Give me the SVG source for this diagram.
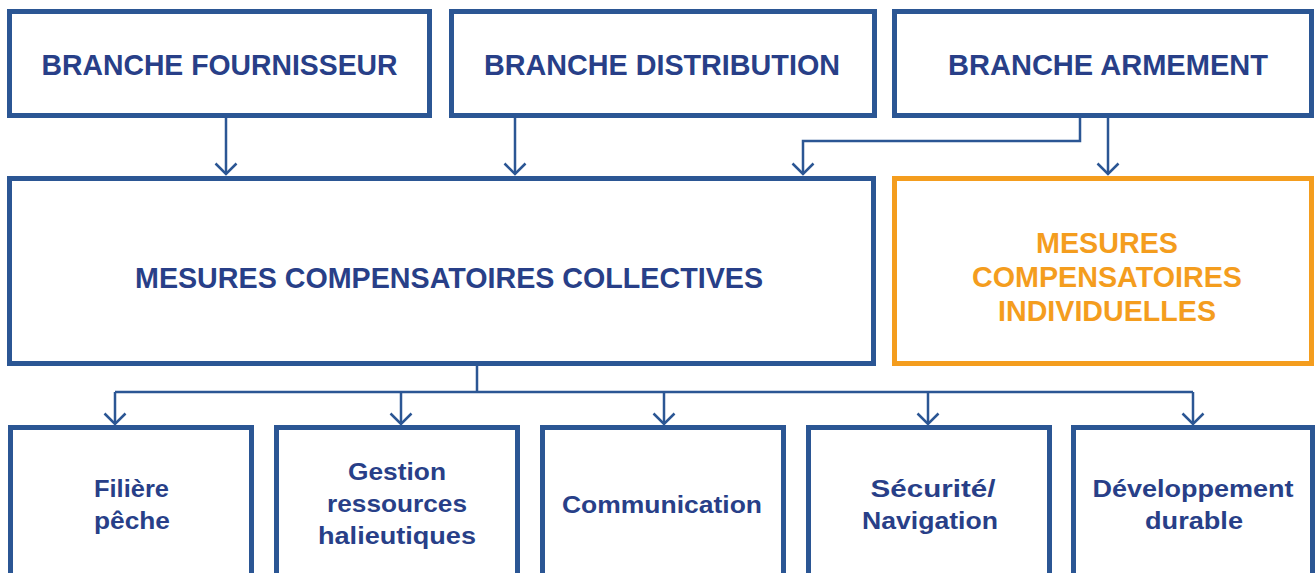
<svg xmlns="http://www.w3.org/2000/svg" width="1315" height="573" viewBox="0 0 1315 573">
<style>
.box{fill:#fff;stroke:#2B5694;stroke-width:5}
.obox{fill:#fff;stroke:#F49D1E;stroke-width:5}
.t{font-family:"Liberation Sans",Arial,sans-serif;font-weight:bold;fill:#283F88;text-anchor:middle}
.big{font-size:30px}
.ot{font-family:"Liberation Sans",Arial,sans-serif;font-weight:bold;fill:#F49D1E;text-anchor:middle;font-size:29px}
.sm{font-size:24px}
.c{fill:none;stroke:#2B5694;stroke-width:2.5}
</style>
<defs>
<marker id="ah" markerUnits="userSpaceOnUse" markerWidth="16" markerHeight="26" viewBox="-13 -13 16 26" refX="0" refY="0" orient="auto">
<path d="M-10.5,-10.5 L0,0 L-10.5,10.5" fill="none" stroke="#2B5694" stroke-width="2.5"/>
</marker>
</defs>
<g id="connectors">
<path class="c" d="M226 118 V174" marker-end="url(#ah)"/>
<path class="c" d="M515 118 V174" marker-end="url(#ah)"/>
<path class="c" d="M1080 118 V141 H803 V174" marker-end="url(#ah)"/>
<path class="c" d="M1108 118 V174" marker-end="url(#ah)"/>
<path class="c" d="M477 366 V392 M115 392 H1193"/>
<path class="c" d="M115 392 V424" marker-end="url(#ah)"/>
<path class="c" d="M401 392 V424" marker-end="url(#ah)"/>
<path class="c" d="M664 392 V424" marker-end="url(#ah)"/>
<path class="c" d="M928 392 V424" marker-end="url(#ah)"/>
<path class="c" d="M1193 392 V424" marker-end="url(#ah)"/>
</g>
<g id="n-fournisseur"><rect class="box" x="9.5" y="11.5" width="420" height="104"/><text class="t big" x="219.5" y="75" textLength="356" lengthAdjust="spacingAndGlyphs">BRANCHE FOURNISSEUR</text></g>
<g id="n-distribution"><rect class="box" x="451.5" y="11.5" width="423" height="104"/><text class="t big" x="662" y="75" textLength="356" lengthAdjust="spacingAndGlyphs">BRANCHE DISTRIBUTION</text></g>
<g id="n-armement"><rect class="box" x="894.5" y="11.5" width="417" height="104"/><text class="t big" x="1108" y="75" textLength="320" lengthAdjust="spacingAndGlyphs">BRANCHE ARMEMENT</text></g>
<g id="n-collectives"><rect class="box" x="9.5" y="178.5" width="864" height="185"/><text class="t big" x="449" y="288" textLength="628" lengthAdjust="spacingAndGlyphs">MESURES COMPENSATOIRES COLLECTIVES</text></g>
<g id="n-individuelles"><rect class="obox" x="894.5" y="178.5" width="417" height="185"/>
<text class="ot" x="1107" y="253" textLength="142" lengthAdjust="spacingAndGlyphs">MESURES</text>
<text class="ot" x="1107" y="287" textLength="270" lengthAdjust="spacingAndGlyphs">COMPENSATOIRES</text>
<text class="ot" x="1107" y="321" textLength="218" lengthAdjust="spacingAndGlyphs">INDIVIDUELLES</text></g>
<g id="n-filiere"><rect class="box" x="10.5" y="427.5" width="241" height="180"/>
<text class="t sm" x="131.5" y="497" textLength="75" lengthAdjust="spacingAndGlyphs">Filière</text>
<text class="t sm" x="132" y="529" textLength="76" lengthAdjust="spacingAndGlyphs">pêche</text></g>
<g id="n-gestion"><rect class="box" x="276.5" y="427.5" width="241" height="180"/>
<text class="t sm" x="397" y="480" textLength="98" lengthAdjust="spacingAndGlyphs">Gestion</text>
<text class="t sm" x="397" y="512" textLength="140" lengthAdjust="spacingAndGlyphs">ressources</text>
<text class="t sm" x="397" y="544" textLength="158" lengthAdjust="spacingAndGlyphs">halieutiques</text></g>
<g id="n-communication"><rect class="box" x="542.5" y="427.5" width="241" height="180"/>
<text class="t sm" x="662" y="513" textLength="200" lengthAdjust="spacingAndGlyphs">Communication</text></g>
<g id="n-securite"><rect class="box" x="808.5" y="427.5" width="241" height="180"/>
<text class="t sm" x="933" y="497" textLength="125" lengthAdjust="spacingAndGlyphs">Sécurité/</text>
<text class="t sm" x="930" y="529" textLength="136" lengthAdjust="spacingAndGlyphs">Navigation</text></g>
<g id="n-developpement"><rect class="box" x="1073.5" y="427.5" width="239" height="180"/>
<text class="t sm" x="1193" y="497" textLength="201" lengthAdjust="spacingAndGlyphs">Développement</text>
<text class="t sm" x="1194" y="529" textLength="98" lengthAdjust="spacingAndGlyphs">durable</text></g>
</svg>
